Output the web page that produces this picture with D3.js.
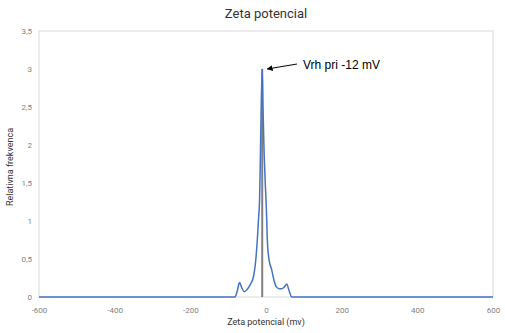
<!DOCTYPE html>
<html><head><meta charset="utf-8">
<script src="https://cdn.jsdelivr.net/npm/d3@7"></script>
<style>body{margin:0;background:#fff}svg{display:block}</style>
</head><body>
<svg id="c" width="505" height="333"></svg>
<script>
const potential = [-600,-90,-82,-76,-70,-64,-57,-50,-42,-33,-27,-23,-20,-17,-15,-13,-10,-8,-5,-2,0,2,3.5,8,15,21,28,35,42,48,55,60,68,80,600];
const frequency = [0,0,0,0.08,0.19,0.12,0.07,0.1,0.16,0.27,0.49,0.75,1.01,1.28,1.8,2.4,3.0,2.5,1.9,1.5,1.28,1.01,0.75,0.49,0.36,0.22,0.13,0.11,0.11,0.13,0.17,0.1,0,0,0];
const xTicks = [-600,-400,-200,0,200,400,600];
const yTicks = [0,0.5,1,1.5,2,2.5,3,3.5];
const peakX = -10, peakY = 3;
const title = "Zeta potencial", xLabel = "Zeta potencial (mv)", yLabel = "Relativna frekvenca", note = "Vrh pri -12 mV";

const svg = d3.select("#c");
const L=39,R=493,T=31,B=297;
const x = d3.scaleLinear().domain([-600,600]).range([L,R]);
const y = d3.scaleLinear().domain([0,3.5]).range([B,T]);
const font = "Roboto, 'Open Sans', sans-serif";

svg.append("rect").attr("x",L).attr("y",T).attr("width",R-L).attr("height",B-T)
  .attr("fill","none").attr("stroke","#d9d9d9").attr("stroke-width",1);

const xa = svg.append("g").attr("transform",`translate(0,${B})`)
  .call(d3.axisBottom(x).tickValues(xTicks).tickSize(0).tickPadding(10).tickFormat(d=>String(d)));
const ya = svg.append("g").attr("transform",`translate(${L-5},0)`)
  .call(d3.axisLeft(y).tickValues(yTicks).tickSize(0).tickPadding(2).tickFormat(d=>String(d).replace(".",",")));
[xa,ya].forEach(a=>{a.select(".domain").remove();
  a.selectAll("text").attr("fill","#7f7f7f").attr("font-size",8).attr("font-family",font);});

svg.append("line").attr("x1",x(peakX)).attr("x2",x(peakX)).attr("y1",y(0)).attr("y2",y(peakY))
  .attr("stroke","#808080").attr("stroke-width",2);

const line = d3.line().x((d,i)=>x(potential[i])).y(d=>y(d)).curve(d3.curveMonotoneX);
svg.append("path").attr("d",line(frequency)).attr("fill","none")
  .attr("stroke","#4472c4").attr("stroke-width",1.5);

svg.append("text").attr("x",266).attr("y",18).attr("text-anchor","middle")
  .attr("font-family",font).attr("font-size",13).attr("fill","#333").text(title);
svg.append("text").attr("x",266).attr("y",325).attr("text-anchor","middle")
  .attr("font-family",font).attr("font-size",9).attr("fill","#333").text(xLabel);
svg.append("text").attr("transform",`translate(13,${(T+B)/2+3}) rotate(-90)`).attr("text-anchor","middle")
  .attr("font-family",font).attr("font-size",9).attr("fill","#333").text(yLabel);

svg.append("defs").append("marker").attr("id","ah").attr("viewBox","0 0 10 10").attr("refX",9).attr("refY",5)
  .attr("markerWidth",6).attr("markerHeight",6).attr("orient","auto")
  .append("path").attr("d","M0,0L10,5L0,10z").attr("fill","#000");
svg.append("line").attr("x1",297).attr("y1",64).attr("x2",x(peakX)+5).attr("y2",y(peakY)+0)
  .attr("stroke","#000").attr("stroke-width",1).attr("marker-end","url(#ah)");
svg.append("text").attr("x",303).attr("y",69).attr("font-family","'Liberation Sans', Arial, sans-serif")
  .attr("font-size",12).attr("fill","#000").text(note);
</script>
</body></html>
